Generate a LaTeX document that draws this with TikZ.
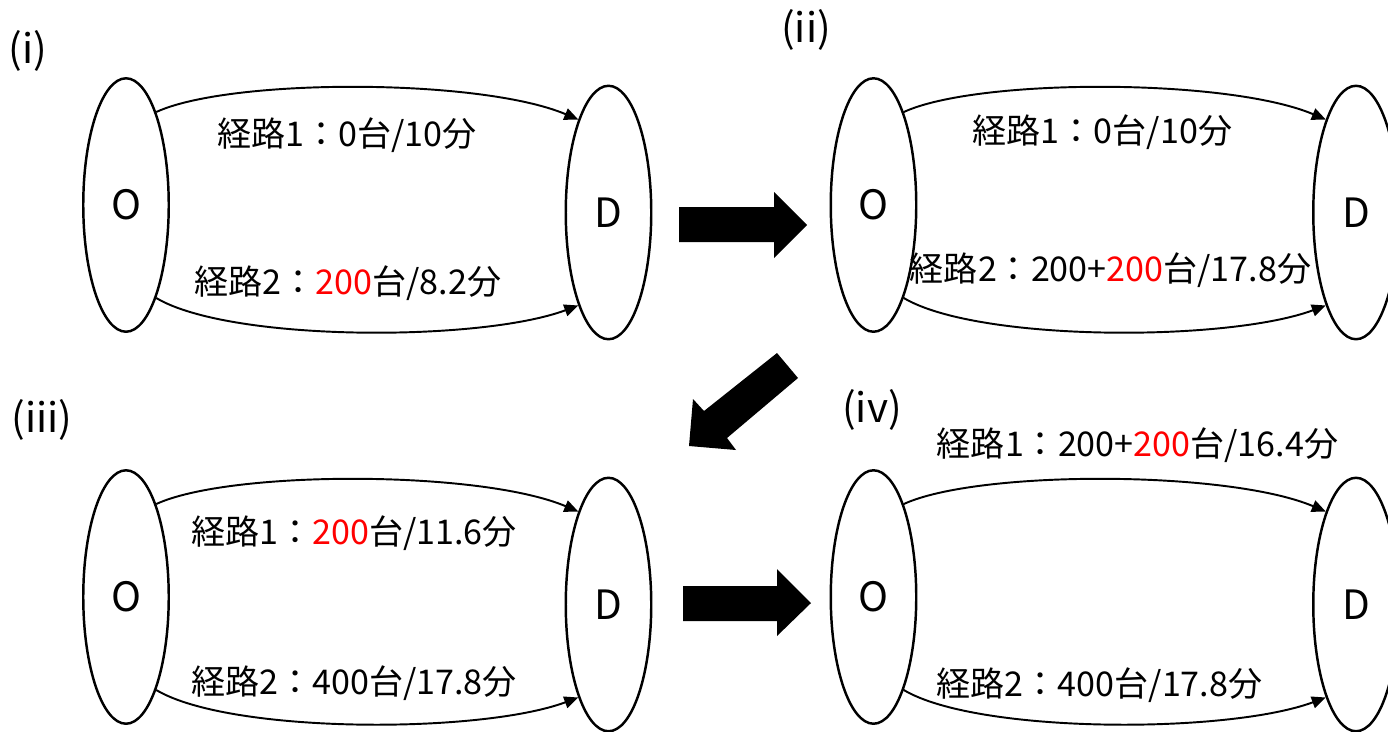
\documentclass[tikz,border=0pt]{standalone}
\usepackage{fontspec}
\setmainfont{Noto Sans CJK JP}
\usetikzlibrary{shapes.geometric,arrows.meta}
\newcommand\hl[1]{\textcolor{red}{#1}}

\begin{document}
\begin{tikzpicture}[x=0.02cm,y=-0.02cm,
  endpoint/.style={draw,ellipse,line width=1.4pt,minimum width=1.71cm,
    minimum height=5.07cm,inner sep=0pt,font=\fontsize{23}{27}\selectfont},
  route/.style={line width=1.1pt,-{Triangle[length=0.28cm,width=0.24cm]}},
  flow/.style={inner sep=0pt,font=\fontsize{19.4}{23}\selectfont},
  stage/.style={inner sep=0pt,font=\fontsize{23}{28}\selectfont},
  blockarrow/.style={fill=black}]
\useasboundingbox (0,0) rectangle (1388,731);

% one O-D network with its two routes; #1 = panel tag
\newcommand\odnet[1]{%
  \node[endpoint] (O#1) at (126,205) {O};
  \node[endpoint] (D#1) at (608.5,212.5) {D};
  \draw[route] (O#1.72) .. controls (230,78) and (480,78) .. (D#1.108);
  \draw[route] (O#1.-72) .. controls (230,342) and (480,342) .. (D#1.-108);
}

% (i)
\begin{scope}
  \odnet{a}
  \node[flow] (La1) at (347,135) {経路1：0台/10分};
  \node[flow] (La2) at (348,283) {経路2：\hl{200}台/8.2分};
\end{scope}
\node[stage] (Sa) at (28,51) {(i)};

% (ii)
\begin{scope}[shift={(747.5,0)}]
  \odnet{b}
  \node[flow] (Lb1) at (355,132) {経路1：0台/10分};
  \node[flow] (Lb2) at (363,270) {経路2：200+\hl{200}台/17.8分};
\end{scope}
\node[stage] (Sb) at (806,30) {(ii)};

% (iii)
\begin{scope}[shift={(0,392)}]
  \odnet{c}
  \node[flow] (Lc1) at (354,141) {経路1：\hl{200}台/11.6分};
  \node[flow] (Lc2) at (354,291) {経路2：400台/17.8分};
\end{scope}
\node[stage] (Sc) at (42,420) {(iii)};

% (iv)
\begin{scope}[shift={(747.5,392)}]
  \odnet{d}
  \node[flow] (Ld1) at (390,53) {経路1：200+\hl{200}台/16.4分};
  \node[flow] (Ld2) at (352,293) {経路2：400台/17.8分};
\end{scope}
\node[stage] (Sd) at (872,410) {(iv)};

% block arrows between the stages
\fill[blockarrow] (679,207) -- (774,207) -- (774,192) -- (807,225)
  -- (774,258) -- (774,242) -- (679,242) -- cycle;
\fill[blockarrow] (777,353) -- (798,378) -- (727,438) -- (736,450)
  -- (689,446) -- (693,399) -- (704,411) -- cycle;
\fill[blockarrow] (683,586) -- (777,586) -- (777,569) -- (811,603)
  -- (777,636) -- (777,621) -- (683,621) -- cycle;
\end{tikzpicture}
\end{document}
